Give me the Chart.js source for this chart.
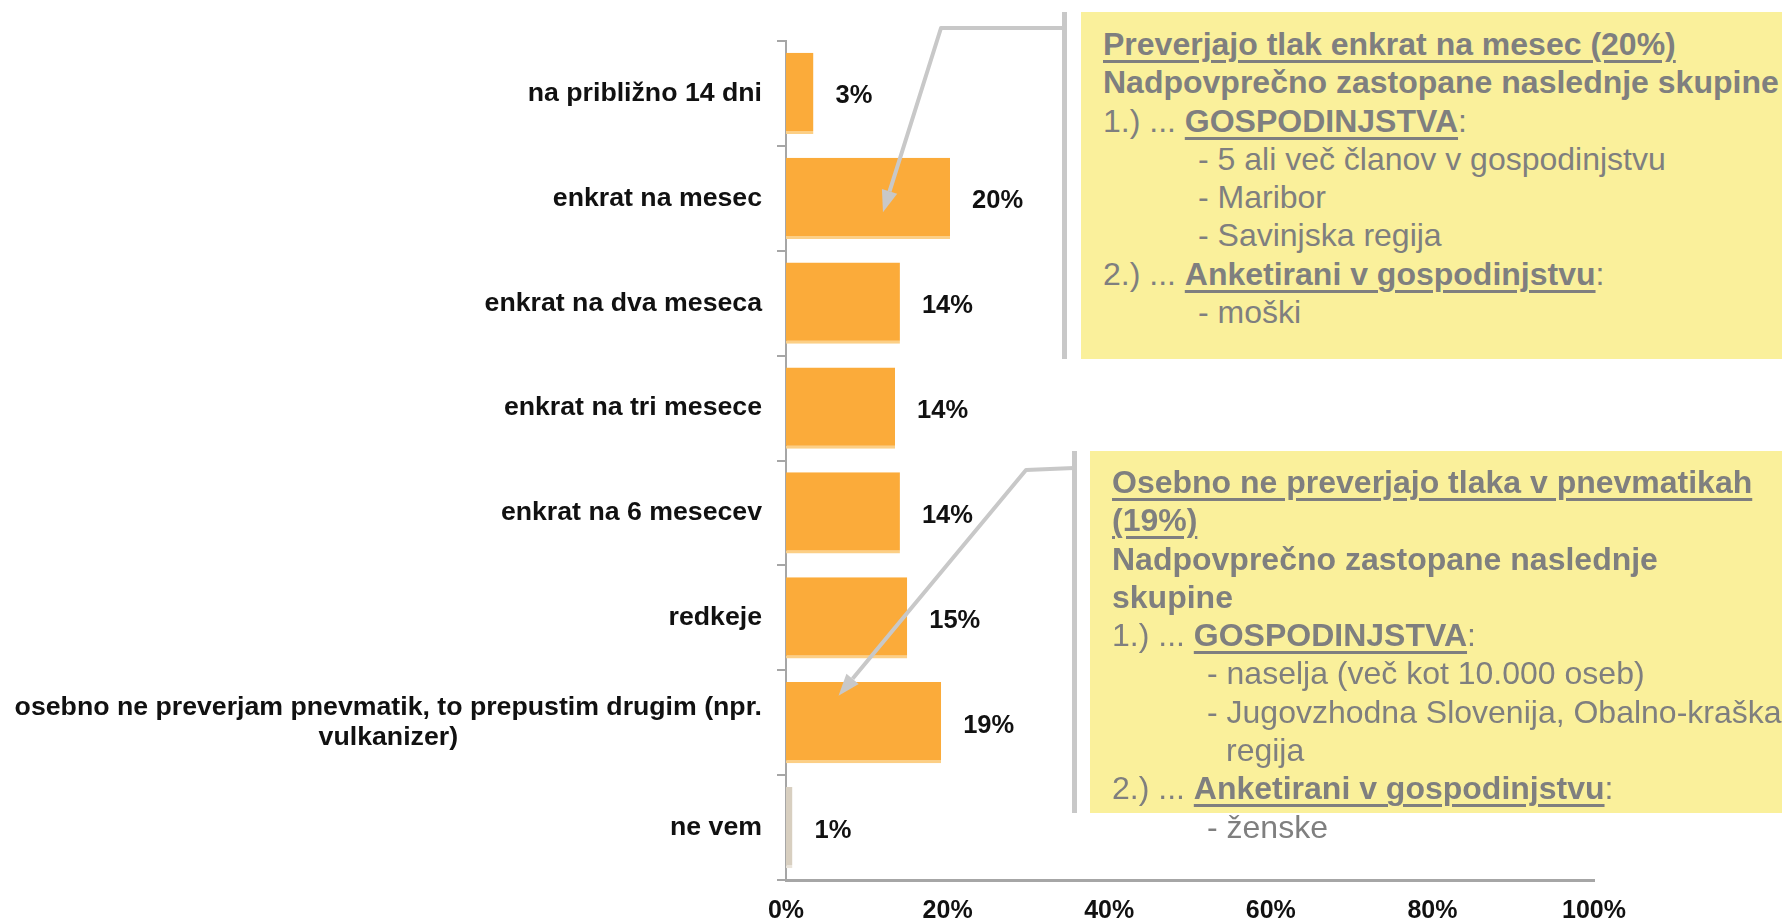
<!DOCTYPE html>
<html>
<head>
<meta charset="utf-8">
<script src="https://cdn.jsdelivr.net/npm/chart.js@4.4.1/dist/chart.umd.min.js"></script>
<style>
  html, body { margin: 0; padding: 0; background: #fff; }
  #wrap { position: relative; width: 1782px; height: 923px; overflow: hidden; }
  #chart { position: absolute; left: 0; top: 0; }
  .note {
    position: absolute; background: #FAF09B; color: #7F7F7F;
    font-family: "Liberation Sans", Arial, sans-serif; font-size: 32px; line-height: 38.3px;
    box-sizing: border-box; white-space: nowrap;
  }
  .note u { text-decoration-thickness: 3px; text-underline-offset: 5px; }
  .note .ind { padding-left: 95px; }
  .note .ind2 { padding-left: 114px; }
</style>
</head>
<body>
<div id="wrap">
  <canvas id="chart" width="1782" height="923"></canvas>
  <div class="note" style="left:1081px;top:12px;width:701px;height:347px;padding:13px 0 0 22px;">
    <div><b><u>Preverjajo tlak enkrat na mesec (20%)</u></b></div>
    <div><b>Nadpovprečno zastopane naslednje skupine</b></div>
    <div>1.) ... <b><u>GOSPODINJSTVA</u></b>:</div>
    <div class="ind">- 5 ali več članov v gospodinjstvu</div>
    <div class="ind">- Maribor</div>
    <div class="ind">- Savinjska regija</div>
    <div>2.) ... <b><u>Anketirani v gospodinjstvu</u></b>:</div>
    <div class="ind">- moški</div>
  </div>
  <div class="note" style="left:1090px;top:451px;width:692px;height:362px;padding:12px 0 0 22px;">
    <div><b><u>Osebno ne preverjajo tlaka v pnevmatikah</u></b></div>
    <div><b><u>(19%)</u></b></div>
    <div><b>Nadpovprečno zastopane naslednje</b></div>
    <div><b>skupine</b></div>
    <div>1.) ... <b><u>GOSPODINJSTVA</u></b>:</div>
    <div class="ind">- naselja (več kot 10.000 oseb)</div>
    <div class="ind">- Jugovzhodna Slovenija, Obalno-kraška</div>
    <div class="ind2">regija</div>
    <div>2.) ... <b><u>Anketirani v gospodinjstvu</u></b>:</div>
    <div class="ind">- ženske</div>
  </div>
</div>
<script>
// data (share of respondents, %)
const categories = [
  'na približno 14 dni',
  'enkrat na mesec',
  'enkrat na dva meseca',
  'enkrat na tri mesece',
  'enkrat na 6 mesecev',
  'redkeje',
  ['osebno ne preverjam pnevmatik, to prepustim drugim (npr.', 'vulkanizer)'],
  'ne vem'
];
const shares = [3.4, 20.3, 14.1, 13.5, 14.1, 15.0, 19.2, 0.8];
const xTicks = [0, 20, 40, 60, 80, 100];

const FONT = '"Liberation Sans", Arial, sans-serif';
const ORANGE = '#FBAB3A';
const BEIGE = '#D8CFC0';
const GREY = '#A6A6A6';
const LINK = '#C8C8C8';

Chart.defaults.font.family = FONT;

// category labels + value labels
const textPlugin = {
  id: 'texts',
  afterDatasetsDraw(chart) {
    const ctx = chart.ctx;
    const y = chart.scales.y;
    const meta = chart.getDatasetMeta(0);
    ctx.save();
    ctx.fillStyle = '#111';
    ctx.textBaseline = 'middle';
    ctx.font = 'bold 26.7px ' + FONT;
    const right = y.right - 24;
    categories.forEach((c, i) => {
      const yc = y.getPixelForValue(i);
      if (Array.isArray(c)) {
        const w = Math.max(...c.map(t => ctx.measureText(t).width));
        ctx.textAlign = 'center';
        c.forEach((t, k) => ctx.fillText(t, right - w / 2, yc + (k - (c.length - 1) / 2) * 30));
      } else {
        ctx.textAlign = 'right';
        ctx.fillText(c, right, yc);
      }
    });
    ctx.font = 'bold 25.5px ' + FONT;
    ctx.textAlign = 'left';
    meta.data.forEach((bar, i) => {
      ctx.fillText(Math.round(shares[i]) + '%', bar.x + 22, bar.y + 3);
    });
    ctx.restore();
  }
};

function arrow(ctx, pts) {
  const [x1, y1] = pts[pts.length - 2];
  const [x2, y2] = pts[pts.length - 1];
  const a = Math.atan2(y2 - y1, x2 - x1);
  const L = 22, W = 8;
  const bx = x2 - L * Math.cos(a), by = y2 - L * Math.sin(a);
  ctx.beginPath();
  ctx.moveTo(pts[0][0], pts[0][1]);
  for (let i = 1; i < pts.length - 1; i++) ctx.lineTo(pts[i][0], pts[i][1]);
  ctx.lineTo(bx, by);
  ctx.stroke();
  ctx.beginPath();
  ctx.moveTo(x2, y2);
  ctx.lineTo(bx + W * Math.sin(a), by - W * Math.cos(a));
  ctx.lineTo(bx - W * Math.sin(a), by + W * Math.cos(a));
  ctx.closePath();
  ctx.fill();
}

// separators and callout arrows to the note boxes
const calloutPlugin = {
  id: 'callouts',
  afterDraw(chart) {
    const ctx = chart.ctx;
    const x = chart.scales.x, y = chart.scales.y;
    ctx.save();
    ctx.fillStyle = LINK;
    ctx.fillRect(1062, 12, 5, 347);
    ctx.fillRect(1072, 451, 5, 362);
    ctx.strokeStyle = LINK;
    ctx.lineWidth = 4;
    ctx.lineJoin = 'round';
    arrow(ctx, [[1064, 28], [941, 28], [x.getPixelForValue(12), y.getPixelForValue(1) + 14]]);
    arrow(ctx, [[1074, 468], [1026, 470], [x.getPixelForValue(6.5), y.getPixelForValue(6) - 27]]);
    ctx.restore();
  }
};

new Chart(document.getElementById('chart'), {
  type: 'bar',
  data: {
    labels: categories,
    datasets: [{
      data: shares,
      backgroundColor: ctx => ctx.dataIndex === shares.length - 1 ? BEIGE : ORANGE,
      borderColor: ctx => ctx.dataIndex === shares.length - 1 ? '#EAE4DA' : '#FCCF86',
      borderWidth: { top: 0, right: 0, bottom: 3, left: 0 },
      borderSkipped: false,
      barPercentage: 0.775,
      categoryPercentage: 1
    }]
  },
  options: {
    indexAxis: 'y',
    responsive: false,
    animation: false,
    devicePixelRatio: 1,
    layout: { padding: { top: 41, right: 188, left: 0, bottom: 0 } },
    plugins: { legend: { display: false }, tooltip: { enabled: false } },
    scales: {
      x: {
        min: 0, max: 100,
        afterBuildTicks: s => { s.ticks = xTicks.map(v => ({ value: v })); },
        afterFit: s => { s.height = 43; },
        grid: { display: false, drawTicks: false },
        border: { display: true, color: GREY, width: 3 },
        ticks: {
          padding: 16,
          color: '#111',
          font: { size: 25, weight: 'bold' },
          callback: v => v + '%'
        }
      },
      y: {
        afterFit: s => { s.width = 786; },
        grid: { offset: true, drawOnChartArea: false, drawTicks: true, tickLength: 9, color: GREY, lineWidth: 2 },
        border: { display: true, color: GREY, width: 2 },
        ticks: { display: false }
      }
    }
  },
  plugins: [textPlugin, calloutPlugin]
});
</script>
</body>
</html>
